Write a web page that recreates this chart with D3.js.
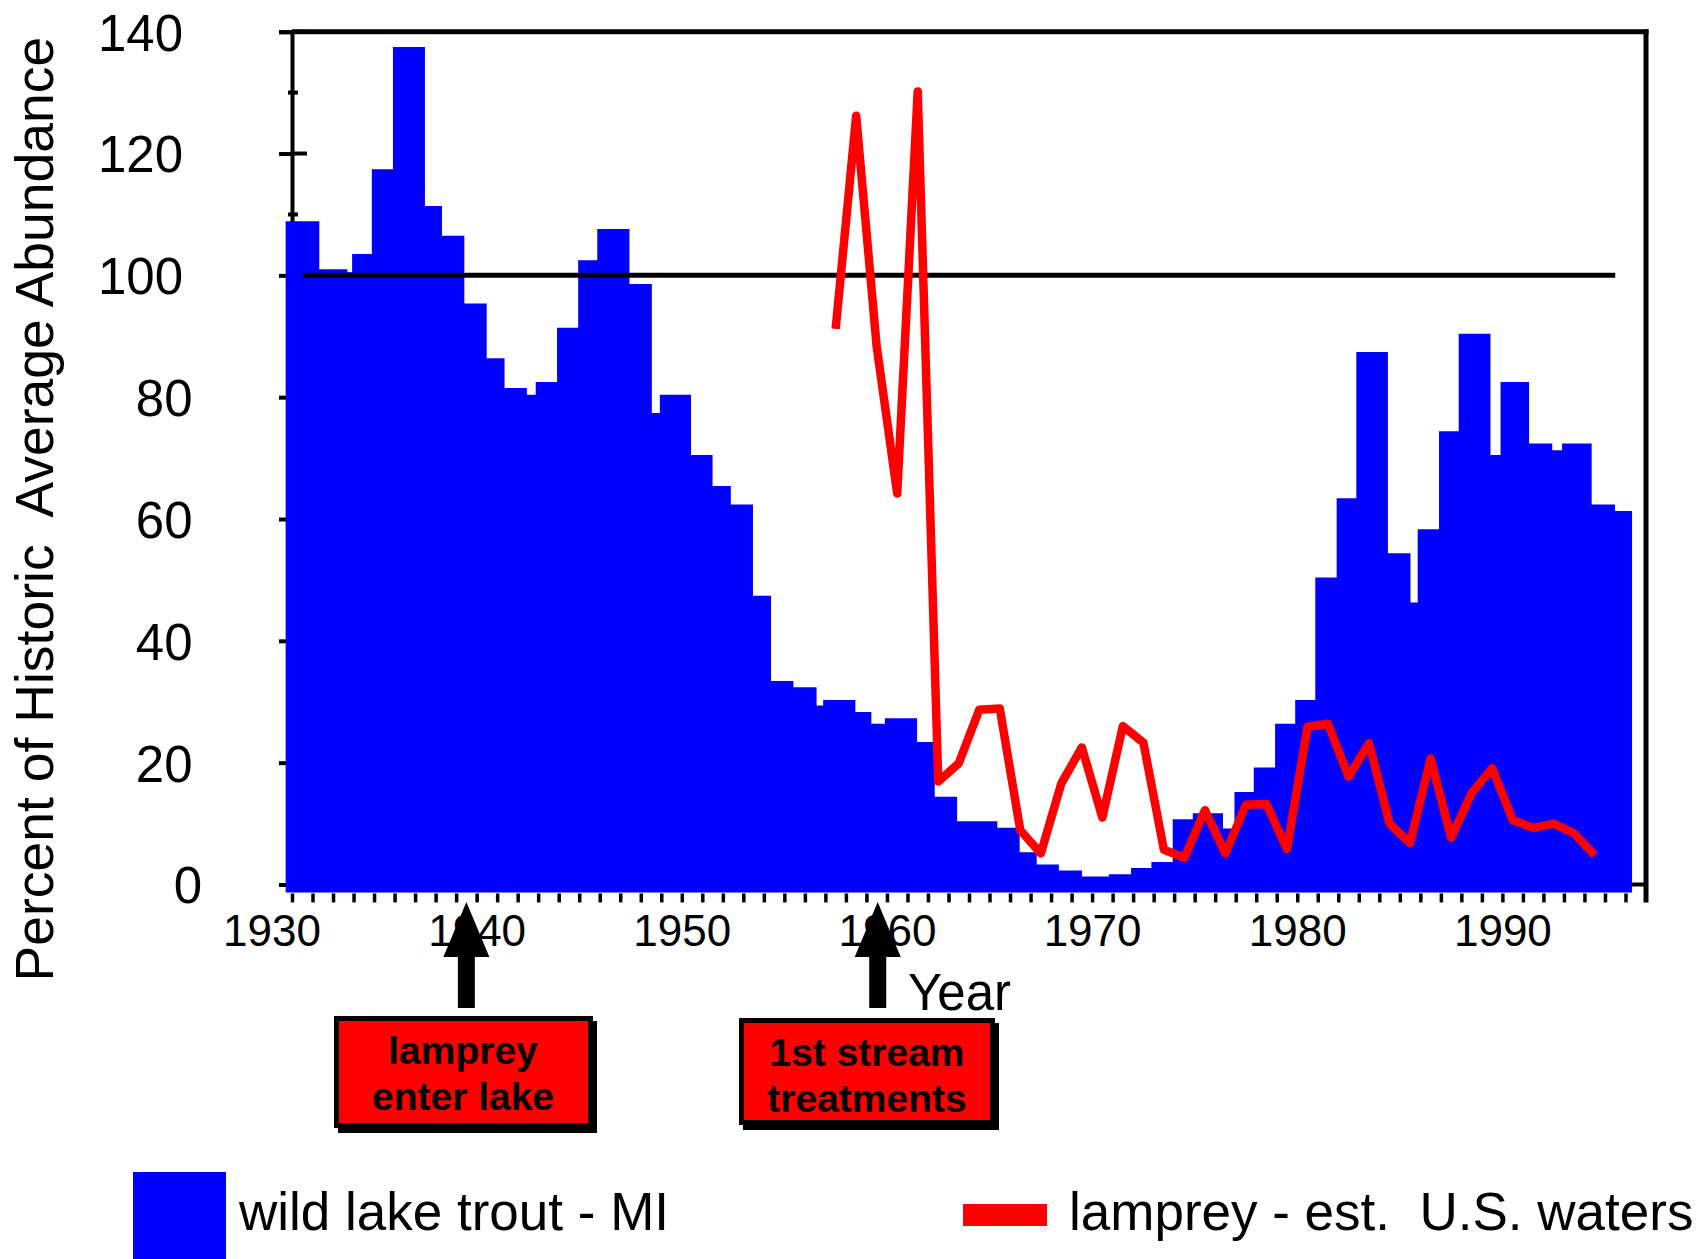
<!DOCTYPE html>
<html>
<head>
<meta charset="utf-8">
<script src="https://cdn.jsdelivr.net/npm/d3@7"></script>
<style>
  body { margin: 0; background: #fff; }
  svg { display: block; font-family: "Liberation Sans", Arial, sans-serif; }
</style>
</head>
<body>
<svg width="1706" height="1259"></svg>
<script>
// wild lake trout, step chart: year where each step starts (last entry = end of last step)
var troutEdges = [1930.69, 1932.33, 1933.70, 1933.93, 1934.89, 1935.92, 1937.48, 1938.31, 1939.40, 1940.49,
  1941.36, 1942.45, 1942.88, 1943.92, 1944.95, 1945.88, 1947.45, 1948.54, 1948.93, 1950.45,
  1951.50, 1952.39, 1953.47, 1954.35, 1955.44, 1956.57, 1956.89, 1958.46, 1959.24, 1959.90,
  1961.47, 1962.33, 1963.42, 1965.38, 1966.47, 1967.30, 1968.38, 1969.51, 1970.82, 1971.90,
  1972.89, 1973.93, 1974.91, 1976.38, 1976.94, 1977.88, 1978.92, 1979.90, 1980.88, 1981.92,
  1982.88, 1984.42, 1985.52, 1985.87, 1986.91, 1987.87, 1989.42, 1989.91, 1991.30, 1992.43,
  1992.91, 1994.35, 1995.49, 1996.32];
var troutValues = [108.9, 101.0, 100.5, 103.5, 117.4, 137.5, 111.4, 106.5, 95.4, 86.4,
  81.5, 80.4, 82.5, 91.4, 102.5, 107.6, 98.6, 77.4, 80.4, 70.5,
  65.4, 62.4, 47.4, 33.4, 32.4, 29.4, 30.3, 28.3, 26.4, 27.3,
  23.4, 14.4, 10.4, 9.3, 5.3, 3.3, 2.3, 1.3, 1.7, 2.7,
  3.7, 10.7, 11.7, 9.2, 15.2, 19.2, 26.4, 30.3, 50.4, 63.4,
  87.4, 54.4, 46.3, 58.3, 74.4, 90.4, 70.5, 82.5, 72.4, 71.3,
  72.4, 62.4, 61.3];

// lamprey - est. U.S. waters
var lampreyYears = [1957, 1958, 1959, 1960, 1961, 1962, 1963, 1964, 1965, 1966,
  1967, 1968, 1969, 1970, 1971, 1972, 1973, 1974, 1975, 1976,
  1977, 1978, 1979, 1980, 1981, 1982, 1983, 1984, 1985, 1986,
  1987, 1988, 1989, 1990, 1991, 1992, 1993, 1994];
var lampreyValues = [91.2, 126.2, 88.3, 64.2, 130.2, 16.9, 19.9, 28.7, 28.9, 8.9,
  5.1, 16.6, 22.5, 11.0, 26.0, 23.3, 5.7, 4.4, 12.2, 5.1,
  13.1, 13.2, 5.8, 25.9, 26.4, 17.7, 23.2, 10.0, 6.8, 20.7,
  7.7, 15.0, 19.1, 10.6, 9.3, 10.0, 8.4, 4.8];

var yTicks = [0, 20, 40, 60, 80, 100, 120, 140];
var yMinorTicks = [110, 130];
var xTickLabels = [1930, 1940, 1950, 1960, 1970, 1980, 1990];
var historicAverage = 100;
var eventYears = [1939.5, 1959.55];
var eventLabels = [['lamprey', 'enter lake'], ['1st stream', 'treatments']];
var legendLabels = ['wild lake trout - MI', 'lamprey - est.  U.S. waters'];

var svg = d3.select('svg');
var axisStart = 1931, axisEnd = 1997;
var baseValue = -1.3; // bars sit a hair under the zero line
var x = d3.scaleLinear().domain([axisStart, axisEnd]).range([292, 1646]);
var y = d3.scaleLinear().domain([0, 140]).range([884.5, 31.7]);

// y axis (drawn first, bars cover most of it)
var yAxis = svg.append('g')
  .attr('transform', 'translate(' + x(axisStart) + ',0)')
  .call(d3.axisLeft(y).tickValues(yTicks).tickSize(13));
yAxis.select('.domain').attr('stroke', '#000').attr('stroke-width', 4);
yAxis.selectAll('.tick line').attr('stroke', '#000').attr('stroke-width', 4);
yAxis.selectAll('.tick text')
  .attr('fill', '#000')
  .attr('font-size', 51)
  .attr('dy', '0.36em')
  .attr('x', function(d) {
    var len = String(d).length;
    return -109 + (3 - len) * 9.5;
  });
yAxis.attr('font-family', null);

// inner parts of the ticks
svg.selectAll('line.inner-major').data(yTicks).enter().append('line')
  .attr('x1', x(axisStart)).attr('x2', x(axisStart) + 15)
  .attr('y1', function(d) { return y(d); }).attr('y2', function(d) { return y(d); })
  .attr('stroke', '#000').attr('stroke-width', 4);
svg.selectAll('line.minor').data(yMinorTicks).enter().append('line')
  .attr('x1', x(axisStart) - 4).attr('x2', x(axisStart) + 6)
  .attr('y1', function(d) { return y(d); }).attr('y2', function(d) { return y(d); })
  .attr('stroke', '#000').attr('stroke-width', 4);

// trout bars as one stepped area
var troutPoints = troutValues.map(function(v, i) { return { year: troutEdges[i], value: v }; });
troutPoints.push({ year: troutEdges[troutEdges.length - 1], value: troutValues[troutValues.length - 1] });
var area = d3.area()
  .curve(d3.curveStepAfter)
  .x(function(d) { return x(d.year); })
  .y0(y(baseValue))
  .y1(function(d) { return y(d.value); });
svg.append('path').datum(troutPoints)
  .attr('d', area)
  .attr('fill', '#0000ff');

// x ticks, one per year
var xTickAxis = svg.append('g')
  .attr('transform', 'translate(0,' + (y(baseValue) + 1) + ')')
  .call(d3.axisBottom(x).tickValues(d3.range(axisStart, axisEnd)).tickSize(9).tickFormat(''));
xTickAxis.select('.domain').remove();
xTickAxis.selectAll('.tick line').attr('stroke', '#000').attr('stroke-width', 3.5);

// x labels
var xLabelAxis = svg.append('g')
  .attr('transform', 'translate(0,' + y(baseValue) + ')')
  .call(d3.axisBottom(x).tickValues(xTickLabels).tickSize(0).tickFormat(d3.format('d')));
xLabelAxis.select('.domain').remove();
xLabelAxis.attr('font-family', null);
xLabelAxis.selectAll('.tick text')
  .attr('fill', '#000')
  .attr('font-size', 44)
  .attr('dy', 0)
  .attr('y', 946 - y(baseValue));

// frame: top line and right axis
svg.append('line')
  .attr('x1', x(axisStart)).attr('x2', x(axisEnd) + 2.5)
  .attr('y1', y(140)).attr('y2', y(140))
  .attr('stroke', '#000').attr('stroke-width', 5);
svg.append('line')
  .attr('x1', x(axisEnd)).attr('x2', x(axisEnd))
  .attr('y1', y(140) - 2.5).attr('y2', y(baseValue) + 10)
  .attr('stroke', '#000').attr('stroke-width', 5);
svg.append('line')
  .attr('x1', x(axisEnd) - 14).attr('x2', x(axisEnd))
  .attr('y1', y(0)).attr('y2', y(0))
  .attr('stroke', '#000').attr('stroke-width', 4);

// historic average line
svg.append('line')
  .attr('x1', x(1931.55)).attr('x2', x(1995.5))
  .attr('y1', y(historicAverage)).attr('y2', y(historicAverage))
  .attr('stroke', '#000').attr('stroke-width', 5);

// lamprey line
var lampreyData = lampreyYears.map(function(yr, i) { return { year: yr, value: lampreyValues[i] }; });
var line = d3.line()
  .x(function(d) { return x(d.year + 0.5); })
  .y(function(d) { return y(d.value); });
svg.append('path').datum(lampreyData)
  .attr('d', line)
  .attr('fill', 'none')
  .attr('stroke', '#ff0000')
  .attr('stroke-width', 8.5)
  .attr('stroke-linejoin', 'round')
  .attr('stroke-linecap', 'butt');

// event arrows
svg.selectAll('path.arrow').data(eventYears).enter().append('path')
  .attr('class', 'arrow')
  .attr('d', function(d) {
    var cx = x(d);
    return 'M' + cx + ',902 L' + (cx + 23) + ',957 L' + (cx + 8.5) + ',957 L' + (cx + 8.5) + ',1008 L' +
      (cx - 8.5) + ',1008 L' + (cx - 8.5) + ',957 L' + (cx - 23) + ',957 Z';
  })
  .attr('fill', '#000');

// event boxes
var boxes = [
  { left: 334, top: 1016, width: 259, height: 112, cx: 463, lines: [1064, 1110] },
  { left: 739, top: 1018, width: 256, height: 107, cx: 867, lines: [1066, 1112] }
];
boxes.forEach(function(b, i) {
  svg.append('rect')
    .attr('x', b.left + 4).attr('y', b.top + 5)
    .attr('width', b.width).attr('height', b.height)
    .attr('fill', '#000');
  svg.append('rect')
    .attr('x', b.left + 2.5).attr('y', b.top + 2.5)
    .attr('width', b.width - 5).attr('height', b.height - 5)
    .attr('fill', '#ff0000')
    .attr('stroke', '#000').attr('stroke-width', 5);
  eventLabels[i].forEach(function(t, j) {
    svg.append('text')
      .attr('x', b.cx).attr('y', b.lines[j])
      .attr('text-anchor', 'middle')
      .attr('font-size', 39)
      .attr('font-weight', 'bold')
      .attr('fill', '#000')
      .text(t);
  });
});

// axis titles
svg.append('text')
  .attr('x', 908).attr('y', 1010)
  .attr('font-size', 51)
  .text('Year');
svg.append('text')
  .attr('transform', 'translate(53,509) rotate(-90)')
  .attr('text-anchor', 'middle')
  .attr('font-size', 53.5)
  .style('white-space', 'pre')
  .text('Percent of Historic  Average Abundance');

// legend
svg.append('rect')
  .attr('x', 133).attr('y', 1172).attr('width', 93).attr('height', 87)
  .attr('fill', '#0000ff');
svg.append('text')
  .attr('x', 239).attr('y', 1229.5)
  .attr('font-size', 53)
  .text(legendLabels[0]);
svg.append('rect')
  .attr('x', 963).attr('y', 1204).attr('width', 84).attr('height', 22)
  .attr('fill', '#ff0000');
svg.append('text')
  .attr('x', 1069).attr('y', 1229.5)
  .attr('font-size', 53)
  .style('white-space', 'pre')
  .text(legendLabels[1]);
</script>
</body>
</html>
